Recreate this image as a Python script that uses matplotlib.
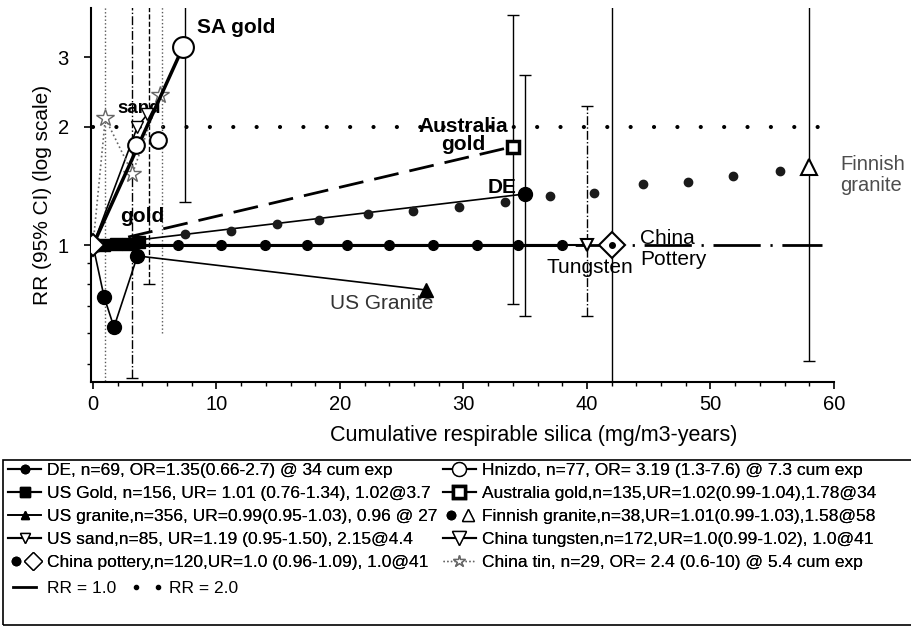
import numpy as np
import matplotlib.pyplot as plt
from matplotlib.lines import Line2D
from matplotlib.legend_handler import HandlerTuple
from matplotlib.patches import Rectangle

plt.rcParams['font.family'] = ['Liberation Sans', 'DejaVu Sans']

# --- data (x = cumulative exposure, y = RR) ---
de_x = [0, 35]
de_y = [1.0, 1.35]
de_ci = [35, 1.35, 0.66, 2.7]          # x, y, lo, hi

usgold_x = [0, 0.9, 1.9, 2.8, 3.7]
usgold_y = [1.0, 1.0, 1.01, 1.01, 1.02]
usgold_ci = [3.2, 1.0, 0.46, 5.0]

usgran_x = [0, 0.9, 1.7, 3.6, 27]
usgran_y = [1.0, 0.74, 0.62, 0.94, 0.77]

ussand_x = [0, 3.6, 4.4]
ussand_y = [1.0, 2.0, 2.15]
ussand_ci = [4.5, 2.15, 0.8, 5.95]

pottery_x = [0, 3.4, 6.9, 10.4, 13.9, 17.3, 20.6, 24.0, 27.5, 31.1, 34.4, 38.0, 42.0]
pottery_y = [1.0, 1.0, 1.0, 1.0, 1.0, 1.0, 1.0, 1.0, 1.0, 1.0, 1.0, 1.0, 1.0]
pottery_ci = [42, 1.0, 0.19, 34]

hnizdo_x = [0, 3.5, 5.3, 7.3]
hnizdo_y = [1.0, 1.8, 1.85, 3.19]
hnizdo_ci = [7.45, 3.19, 1.29, 7.6]

ausgold_x = [0, 34]
ausgold_y = [1.0, 1.78]
ausgold_ci = [34, 1.78, 0.71, 3.85]

finn_x = [7.45, 11.2, 14.9, 18.3, 22.3, 25.9, 29.6, 33.4, 37.0, 40.6, 44.5, 48.2, 51.8, 55.6, 58.0]
finn_y = [1.07, 1.09, 1.13, 1.16, 1.2, 1.22, 1.25, 1.29, 1.33, 1.36, 1.43, 1.45, 1.5, 1.54, 1.58]
finn_ci = [58, 1.58, 0.51, 5.56]

tung_x = [0, 40]
tung_y = [1.0, 1.0]
tung_ci = [40, 1.0, 0.66, 2.26]

tin_x = [0, 1.0, 3.2, 5.4]
tin_y = [1.0, 2.1, 1.52, 2.4]
tin_ci_x = [1.0, 5.6]
tin_ci_y = [2.1, 2.4]
tin_ci_lo = [0.3, 0.6]
tin_ci_hi = [10, 10]

rr_x = [0, 59]
rr1_y = [1.0, 1.0]
rr2_y = [2.0, 2.0]

labels_left = ['DE, n=69, OR=1.35(0.66-2.7) @ 34 cum exp',
               'US Gold, n=156, UR= 1.01 (0.76-1.34), 1.02@3.7',
               'US granite,n=356, UR=0.99(0.95-1.03), 0.96 @ 27',
               'US sand,n=85, UR=1.19 (0.95-1.50), 2.15@4.4',
               'China pottery,n=120,UR=1.0 (0.96-1.09), 1.0@41']
labels_right = ['Hnizdo, n=77, OR= 3.19 (1.3-7.6) @ 7.3 cum exp',
                'Australia gold,n=135,UR=1.02(0.99-1.04),1.78@34',
                'Finnish granite,n=38,UR=1.01(0.99-1.03),1.58@58',
                'China tungsten,n=172,UR=1.0(0.99-1.02), 1.0@41',
                'China tin, n=29, OR= 2.4 (0.6-10) @ 5.4 cum exp']

fig = plt.figure(figsize=(9.12, 6.33), dpi=100)
ax = fig.add_axes([91 / 912, 1 - 382 / 633, (834 - 91) / 912, (382 - 8) / 633])
ax.set_yscale('log')


def ci(c, style='-', color='k'):
    x, y, lo, hi = c
    eb = ax.errorbar([x], [y], yerr=[[y - lo], [hi - y]], fmt='none', ecolor=color,
                     elinewidth=1, capsize=4, capthick=1, zorder=2)
    eb[2][0].set_linestyle(style)


# reference lines
ax.plot(rr_x, rr1_y, color='k', lw=2, ls=(0, (17, 3.5, 0.8, 3.5)), zorder=1)
ax.plot(rr_x, rr2_y, color='k', lw=3, ls=(0, (0.01, 5.6)), dash_capstyle='round', zorder=1)

# error bars
ci(de_ci)
ci(usgold_ci, '-.')
ci(ussand_ci, '--')
ci(pottery_ci)
ci(hnizdo_ci)
ci(ausgold_ci)
ci(finn_ci)
ci(tung_ci, '-.')
eb = ax.errorbar(tin_ci_x, tin_ci_y,
                 yerr=[np.subtract(tin_ci_y, tin_ci_lo), np.subtract(tin_ci_hi, tin_ci_y)],
                 fmt='none', ecolor='0.35', elinewidth=1, capsize=0)
eb[2][0].set_linestyle(':')

# series
ax.plot(pottery_x[:-1], pottery_y[:-1], color='k', lw=2.2, marker='o', ms=7, zorder=3)
ax.plot(pottery_x[-1:], pottery_y[-1:], ls='none', marker='D', ms=13, mfc='w', mec='k', mew=1.5, zorder=5)
ax.plot(pottery_x[-1:], pottery_y[-1:], ls='none', marker='o', ms=4, color='k', zorder=6)
ax.plot(tung_x, tung_y, color='k', lw=1.5, zorder=3)
ax.plot(tung_x[-1:], tung_y[-1:], ls='none', marker='v', ms=9, mfc='w', mec='k', mew=1.5, zorder=5)
ax.plot(finn_x[:-1], finn_y[:-1], ls='none', marker='o', ms=6, color='0.1', zorder=4)
ax.plot(finn_x[-1:], finn_y[-1:], ls='none', marker='^', ms=11, mfc='w', mec='k', mew=1.5, zorder=5)
ax.plot(de_x, de_y, color='k', lw=1.2, zorder=3)
ax.plot(de_x[-1:], de_y[-1:], ls='none', marker='o', ms=10, color='k', zorder=5)
ax.plot(ausgold_x, ausgold_y, color='k', lw=2, ls=(0, (9, 4)), zorder=3)
ax.plot(ausgold_x[-1:], ausgold_y[-1:], ls='none', marker='s', ms=9, mfc='w', mec='k', mew=2.5, zorder=5)
ax.plot(usgran_x, usgran_y, color='k', lw=1.2, zorder=3)
ax.plot(usgran_x[1:-1], usgran_y[1:-1], ls='none', marker='o', ms=10, color='k', zorder=4)
ax.plot(usgran_x[-1:], usgran_y[-1:], ls='none', marker='^', ms=10, color='k', zorder=4)
ax.plot(usgold_x, usgold_y, color='k', lw=3, marker='s', ms=8, zorder=4)
ax.plot(ussand_x, ussand_y, color='k', lw=1.2, marker='v', ms=8, mfc='w', zorder=4)
ax.plot(tin_x, tin_y, color='0.4', lw=1.2, ls=':', marker='*', ms=13, mfc='w', mec='0.4', zorder=4)
ax.plot([hnizdo_x[0], hnizdo_x[-1]], [hnizdo_y[0], hnizdo_y[-1]], color='k', lw=2.5, zorder=4)
ax.plot(hnizdo_x[1:-1], hnizdo_y[1:-1], ls='none', marker='o', ms=12, mfc='w', mec='k', mew=1.5, zorder=5)
ax.plot(hnizdo_x[-1:], hnizdo_y[-1:], ls='none', marker='o', ms=15, mfc='w', mec='k', mew=1.5, zorder=5)
ax.plot(pottery_x[:1], pottery_y[:1], ls='none', marker='D', ms=11, mfc='w', mec='k', mew=1.5, zorder=6)

# annotations
bold = dict(fontsize=15, fontweight='bold')
ax.text(8.4, 3.56, 'SA gold', ha='left', va='center', **bold)
ax.text(2.0, 2.23, 'sand', ha='left', va='center', fontsize=13.5, fontweight='bold')
ax.text(4.0, 1.18, 'gold', ha='center', va='center', **bold)
ax.text(30.0, 1.9, 'Australia\ngold', ha='center', va='center', linespacing=0.95, **bold)
ax.text(33.1, 1.40, 'DE', ha='center', va='center', **bold)
ax.text(40.2, 0.88, 'Tungsten', ha='center', va='center', fontsize=15)
ax.text(44.3, 0.98, 'China\nPottery', ha='left', va='center', fontsize=15, linespacing=1.1)
ax.text(19.2, 0.71, 'US Granite', ha='left', va='center', fontsize=15, color='0.2')
ax.text(60.5, 1.51, 'Finnish\ngranite', ha='left', va='center', fontsize=14.5,
        color='0.3', linespacing=1.1)

# axes
ax.set_xlim(-0.16, 60)
ax.set_ylim(0.45, 4.0)
ax.set_xticks(np.arange(0, 61, 10))
ax.set_xticks(np.arange(0, 61, 2), minor=True)
ax.set_yticks([1, 2, 3])
ax.set_yticklabels(['1', '2', '3'])
ax.set_yticks([0.5, 0.6, 0.7, 0.8, 0.9], minor=True)
ax.yaxis.set_minor_formatter(plt.NullFormatter())
ax.tick_params(labelsize=14.5, length=5, width=1.2, pad=4)
ax.tick_params(axis='y', pad=11)
ax.tick_params(which='minor', length=3, width=1)
for s in ['top', 'right']:
    ax.spines[s].set_visible(False)
for s in ['left', 'bottom']:
    ax.spines[s].set_linewidth(1.5)
ax.set_xlabel('Cumulative respirable silica (mg/m3-years)', fontsize=15.5)
ax.xaxis.set_label_coords(0.596, -0.115)
ax.set_ylabel('RR (95% CI) (log scale)', fontsize=15, labelpad=4)

# legend
h = [Line2D([], [], color='k', lw=1.5, marker='o', ms=6),
     Line2D([], [], color='k', lw=1.5, marker='s', ms=7),
     Line2D([], [], color='k', lw=1.2, marker='^', ms=6),
     Line2D([], [], color='k', lw=1.5, marker='v', ms=7, mfc='w'),
     (Line2D([], [], color='k', ls='none', marker='o', ms=6),
      Line2D([], [], color='k', ls='none', marker='D', ms=9, mfc='w')),
     Line2D([], [], color='k', lw=1.5, marker='o', ms=10, mfc='w'),
     Line2D([], [], color='k', lw=1.5, marker='s', ms=8, mfc='w', mew=2.5),
     (Line2D([], [], color='k', ls='none', marker='o', ms=6),
      Line2D([], [], color='k', ls='none', marker='^', ms=9, mfc='w')),
     Line2D([], [], color='k', lw=1.5, marker='v', ms=10, mfc='w'),
     Line2D([], [], color='0.4', lw=1, ls=':', marker='*', ms=9, mfc='w', mec='0.4')]
leg = fig.legend(h, labels_left + labels_right, ncol=2, loc='upper left',
                 bbox_to_anchor=(3 / 912, 1 - 458 / 633), frameon=False, fontsize=12.5,
                 handlelength=1.9, handletextpad=0.35, columnspacing=0.3, labelspacing=0.45,
                 borderaxespad=0, borderpad=0.3, numpoints=1,
                 handler_map={tuple: HandlerTuple(ndivide=None, pad=0)})
fig.add_artist(leg)
h2 = [Line2D([], [], color='k', lw=2), Line2D([], [], color='k', ls='none', marker='o', ms=3)]
fig.legend(h2, ['RR = 1.0', 'RR = 2.0'], ncol=2, loc='upper left',
           bbox_to_anchor=(3 / 912, 1 - 576 / 633), frameon=False, fontsize=12.5,
           handlelength=1.9, handletextpad=0.35, columnspacing=0.8, numpoints=2,
           borderaxespad=0, borderpad=0.3)
fig.add_artist(Rectangle((3 / 912, 1 - 625 / 633), 1.0, (625 - 460) / 633,
                         transform=fig.transFigure, fill=False, ec='k', lw=1.2))

fig.savefig('out.png', dpi=100)
